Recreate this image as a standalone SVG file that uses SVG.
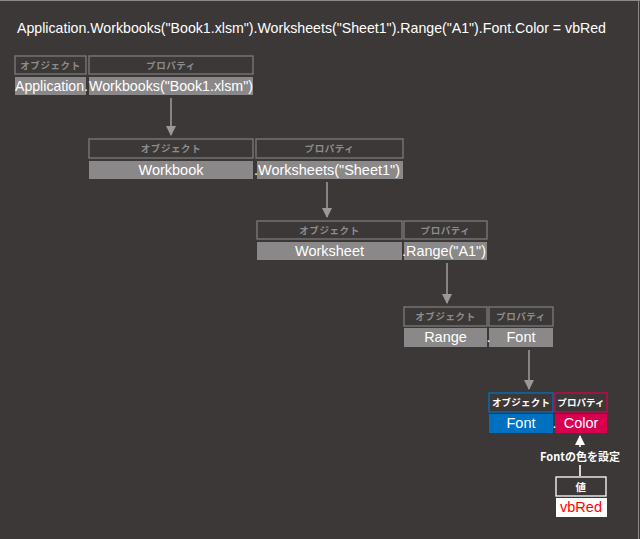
<svg xmlns="http://www.w3.org/2000/svg" width="640" height="539" viewBox="0 0 640 539">
<defs>
<style>
.hb{fill:none;stroke:#7d7b7a;stroke-width:1.3}
.ht{font-family:"Noto Sans CJK JP","Noto Sans",sans-serif;font-size:9.5px;font-weight:bold;fill:#8e8c8b;text-anchor:middle;letter-spacing:0.6px}
.vf{fill:#8a8888}
.vt{font-family:"Liberation Sans",Arial,sans-serif;font-size:14.5px;fill:#ffffff}
.c{text-anchor:middle}
.ar{stroke:#9a9898;stroke-width:1.6;fill:none}
</style>
<marker id="ah" markerWidth="10" markerHeight="12" refX="9" refY="5" orient="auto" markerUnits="userSpaceOnUse">
<path d="M0,0 L10,5 L0,10 Z" fill="#9a9898"/>
</marker>
<marker id="ahw" markerWidth="10" markerHeight="12" refX="9" refY="5" orient="auto" markerUnits="userSpaceOnUse">
<path d="M0,0 L10,5 L0,10 Z" fill="#ffffff"/>
</marker>
</defs>
<rect x="0" y="0" width="640" height="539" fill="#3b3837"/>
<line x1="0" y1="0.5" x2="640" y2="0.5" stroke="#8a8888" stroke-width="1"/>
<line x1="638.5" y1="0" x2="638.5" y2="539" stroke="#8a8888" stroke-width="1"/>
<text x="17" y="33" font-family="&quot;Liberation Sans&quot;,Arial,sans-serif" font-size="15" fill="#ffffff" textLength="589" lengthAdjust="spacingAndGlyphs">Application.Workbooks("Book1.xlsm").Worksheets("Sheet1").Range("A1").Font.Color = vbRed</text>

<g id="row1">
<rect class="hb" x="15" y="56" width="71" height="18"/>
<text class="ht" x="50.5" y="69">オブジェクト</text>
<rect class="hb" x="89" y="56" width="164" height="18"/>
<text class="ht" x="171" y="69">プロパティ</text>
<rect class="vf" x="15" y="77" width="71" height="18"/>
<rect class="vf" x="89" y="77" width="164" height="18"/>
<text class="vt" x="15" y="91" textLength="73" lengthAdjust="spacingAndGlyphs">Application.</text>
<text class="vt" x="89" y="91" textLength="164" lengthAdjust="spacingAndGlyphs">Workbooks("Book1.xlsm")</text>
</g>

<g id="row2">
<rect class="hb" x="89" y="139" width="164" height="19"/>
<text class="ht" x="171" y="152">オブジェクト</text>
<rect class="hb" x="256" y="139" width="147" height="19"/>
<text class="ht" x="329.5" y="152">プロパティ</text>
<rect class="vf" x="89" y="161" width="164" height="18"/>
<rect class="vf" x="257" y="161" width="146" height="18"/>
<text class="vt c" x="171" y="175">Workbook</text>
<text class="vt" x="254" y="175" textLength="146" lengthAdjust="spacingAndGlyphs">.Worksheets("Sheet1")</text>
</g>

<g id="row3">
<rect class="hb" x="257" y="221" width="145" height="18"/>
<text class="ht" x="329.5" y="234">オブジェクト</text>
<rect class="hb" x="404" y="221" width="83" height="18"/>
<text class="ht" x="445.5" y="234">プロパティ</text>
<rect class="vf" x="257" y="242" width="145" height="18"/>
<rect class="vf" x="404" y="242" width="83" height="18"/>
<text class="vt c" x="329.5" y="256">Worksheet</text>
<text class="vt" x="402" y="256" textLength="84" lengthAdjust="spacingAndGlyphs">.Range("A1")</text>
</g>

<g id="row4">
<rect class="hb" x="404" y="307" width="83" height="19"/>
<text class="ht" x="445.5" y="320">オブジェクト</text>
<rect class="hb" x="489" y="307" width="64" height="19"/>
<text class="ht" x="521" y="320">プロパティ</text>
<rect class="vf" x="404" y="328" width="83" height="19"/>
<rect class="vf" x="489" y="328" width="64" height="19"/>
<text class="vt c" x="445.5" y="342">Range</text>
<text class="vt" x="486.5" y="342" font-size="10">.</text>
<text class="vt c" x="521" y="342">Font</text>
</g>

<g id="row5">
<rect x="489" y="393" width="64" height="19" fill="none" stroke="#0070c0" stroke-width="1.3"/>
<text class="ht" x="521" y="406" style="fill:#ffffff;letter-spacing:0.2px">オブジェクト</text>
<rect x="555" y="393" width="52" height="19" fill="none" stroke="#d6004f" stroke-width="1.3"/>
<text class="ht" x="581" y="406" style="fill:#ffffff;letter-spacing:0.1px">プロパティ</text>
<rect x="489" y="414" width="64" height="19" fill="#0070c0"/>
<rect x="555" y="414" width="52" height="19" fill="#d6004f"/>
<text class="vt c" x="521" y="428">Font</text>
<text class="vt" x="552.5" y="428" font-size="10">.</text>
<text class="vt c" x="581" y="428">Color</text>
</g>

<g id="value">
<rect x="556" y="477" width="50" height="19" fill="none" stroke="#ffffff" stroke-width="1.3"/>
<text class="ht" x="581" y="490.5" style="fill:#ffffff;font-size:10.5px">値</text>
<rect x="556" y="498" width="51" height="19" fill="#ffffff"/>
<text class="vt c" x="581" y="512" style="fill:#ff0000">vbRed</text>
</g>

<g id="label">
<text x="580" y="461" font-family="&quot;Noto Sans CJK JP&quot;,&quot;Noto Sans&quot;,sans-serif" font-size="11" font-weight="bold" fill="#ffffff" text-anchor="middle">Fontの色を設定</text>
</g>

<g id="connectors">
<line class="ar" x1="171" y1="98" x2="171" y2="135" marker-end="url(#ah)"/>
<line class="ar" x1="327" y1="182" x2="327" y2="217" marker-end="url(#ah)"/>
<line class="ar" x1="447" y1="263" x2="447" y2="303" marker-end="url(#ah)"/>
<line class="ar" x1="529" y1="350" x2="529" y2="389" marker-end="url(#ah)"/>
<line x1="580" y1="447" x2="580" y2="436" stroke="#ffffff" stroke-width="1.6" marker-end="url(#ahw)"/>
<line x1="580" y1="465" x2="580" y2="476" stroke="#ffffff" stroke-width="1.6"/>
</g>
</svg>
